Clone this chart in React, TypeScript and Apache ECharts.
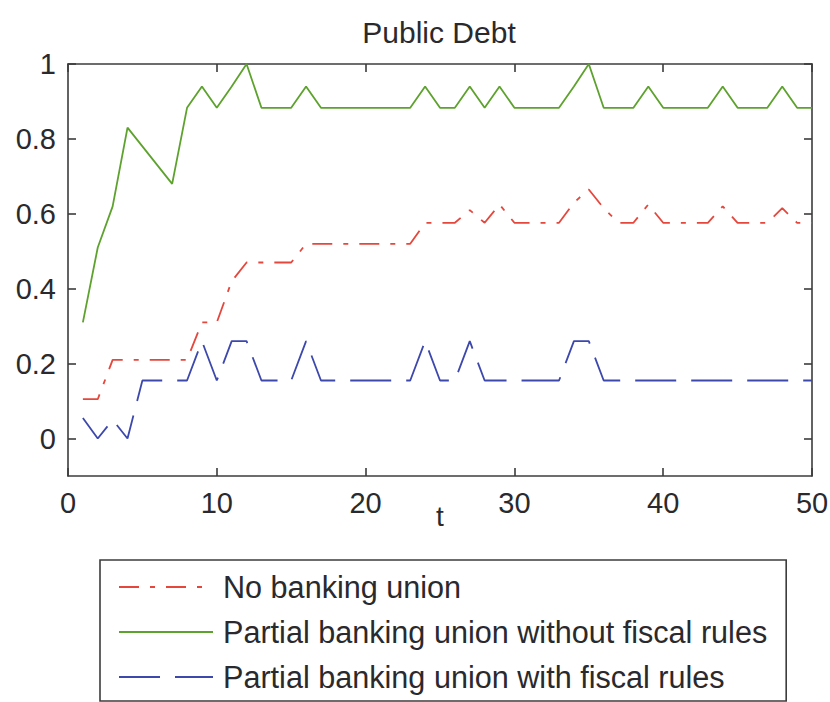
import React, { useEffect, useRef } from "react";
import * as echarts from "echarts";

const T = [1, 2, 3, 4, 5, 6, 7, 8, 9, 10, 11, 12, 13, 14, 15, 16, 17, 18, 19, 20, 21, 22, 23, 24, 25, 26, 27, 28, 29, 30, 31, 32, 33, 34, 35, 36, 37, 38, 39, 40, 41, 42, 43, 44, 45, 46, 47, 48, 49, 50];

const noBankingUnion = [
  0.105, 0.105, 0.21, 0.21, 0.21, 0.21, 0.21, 0.21, 0.31, 0.31,
  0.42, 0.47, 0.47, 0.47, 0.47, 0.52, 0.52, 0.52, 0.52, 0.52,
  0.52, 0.52, 0.52, 0.576, 0.576, 0.576, 0.61, 0.576, 0.625, 0.576,
  0.576, 0.576, 0.576, 0.63, 0.665, 0.615, 0.576, 0.576, 0.625, 0.576,
  0.576, 0.576, 0.576, 0.62, 0.576, 0.576, 0.576, 0.615, 0.576, 0.576,
];

const partialWithoutRules = [
  0.31, 0.51, 0.62, 0.83, 0.78, 0.73, 0.68, 0.883, 0.94, 0.883,
  0.94, 1.0, 0.883, 0.883, 0.883, 0.94, 0.883, 0.883, 0.883, 0.883,
  0.883, 0.883, 0.883, 0.94, 0.883, 0.883, 0.94, 0.883, 0.94, 0.883,
  0.883, 0.883, 0.883, 0.94, 1.0, 0.883, 0.883, 0.883, 0.94, 0.883,
  0.883, 0.883, 0.883, 0.94, 0.883, 0.883, 0.883, 0.94, 0.883, 0.883,
];

const partialWithRules = [
  0.055, 0.0, 0.05, 0.0, 0.155, 0.155, 0.155, 0.155, 0.26, 0.155,
  0.26, 0.26, 0.155, 0.155, 0.155, 0.26, 0.155, 0.155, 0.155, 0.155,
  0.155, 0.155, 0.155, 0.26, 0.155, 0.155, 0.26, 0.155, 0.155, 0.155,
  0.155, 0.155, 0.155, 0.26, 0.26, 0.155, 0.155, 0.155, 0.155, 0.155,
  0.155, 0.155, 0.155, 0.155, 0.155, 0.155, 0.155, 0.155, 0.155, 0.155,
];

const seriesNames = [
  "No banking union",
  "Partial banking union without fiscal rules",
  "Partial banking union with fiscal rules",
];

const yTicks = [0, 0.2, 0.4, 0.6, 0.8, 1];
const xTicksInterval = 10;

const FONT = "'Liberation Sans', Arial, sans-serif";
const AXIS_COLOR = "#3c3c3c";
const TEXT_COLOR = "#2a2a2e";

function pairs(values: number[]) {
  return T.map((t, i) => [t, values[i]]);
}

export default function App() {
  const ref = useRef<HTMLDivElement>(null);

  useEffect(() => {
    if (!ref.current) return;
    const chart = echarts.init(ref.current, null, { renderer: "svg" });

    const axisLine = { show: true, onZero: false, lineStyle: { color: AXIS_COLOR, width: 1.6 } };
    const axisTick = { show: true, inside: true, length: 8, lineStyle: { color: AXIS_COLOR, width: 1.6 } };

    chart.setOption({
      animation: false,
      backgroundColor: "#ffffff",
      title: {
        text: "Public Debt",
        left: 434,
        top: 12,
        textAlign: "center",
        textStyle: { fontFamily: FONT, fontSize: 30, fontWeight: "normal", color: TEXT_COLOR },
      },
      grid: { left: 68, right: 18, top: 64, bottom: 226, outerBoundsMode: "none" },
      xAxis: [
        {
          type: "value",
          min: 0,
          max: 50,
          interval: xTicksInterval,
          position: "bottom",
          name: "t",
          nameLocation: "middle",
          nameGap: 26,
          nameMoveOverlap: false,
          nameTextStyle: { fontFamily: FONT, fontSize: 28, color: TEXT_COLOR },
          axisLine,
          axisTick,
          splitLine: { show: false },
          axisLabel: { fontFamily: FONT, fontSize: 29, color: TEXT_COLOR, margin: 12 },
        },
        {
          type: "value",
          min: 0,
          max: 50,
          interval: xTicksInterval,
          position: "top",
          axisLine,
          axisTick,
          splitLine: { show: false },
          axisLabel: { show: false },
        },
      ],
      yAxis: [
        {
          type: "value",
          min: -0.1,
          max: 1,
          position: "left",
          axisLine,
          axisTick: { ...axisTick, customValues: yTicks },
          splitLine: { show: false },
          axisLabel: {
            customValues: yTicks,
            fontFamily: FONT,
            fontSize: 29,
            color: TEXT_COLOR,
            margin: 12,
            formatter: (v: number) => String(Math.round(v * 10) / 10),
          },
        },
        {
          type: "value",
          min: -0.1,
          max: 1,
          position: "right",
          axisLine,
          axisTick: { ...axisTick, customValues: yTicks },
          splitLine: { show: false },
          axisLabel: { show: false, customValues: yTicks },
        },
      ],
      legend: {
        orient: "vertical",
        left: 100,
        top: 560,
        itemWidth: 94,
        itemHeight: 16,
        itemGap: 9,
        padding: [9, 19, 6, 18],
        borderColor: AXIS_COLOR,
        borderWidth: 1.6,
        backgroundColor: "#ffffff",
        itemStyle: { opacity: 0 },
        textStyle: { fontFamily: FONT, fontSize: 30.6, color: TEXT_COLOR, lineHeight: 36, padding: [0, 0, 0, 5] },
        data: seriesNames,
      },
      series: [
        {
          name: seriesNames[0],
          type: "line",
          xAxisIndex: 0,
          yAxisIndex: 0,
          data: pairs(noBankingUnion),
          symbol: "none",
          lineStyle: { color: "#e5473d", width: 1.8, type: [20, 11, 5, 11] },
          itemStyle: { color: "#e5473d" },
        },
        {
          name: seriesNames[1],
          type: "line",
          xAxisIndex: 0,
          yAxisIndex: 0,
          data: pairs(partialWithoutRules),
          symbol: "none",
          lineStyle: { color: "#5ea22e", width: 1.8, type: "solid" },
          itemStyle: { color: "#5ea22e" },
        },
        {
          name: seriesNames[2],
          type: "line",
          xAxisIndex: 0,
          yAxisIndex: 0,
          data: pairs(partialWithRules),
          symbol: "none",
          lineStyle: { color: "#3d48ad", width: 1.8, type: [41, 15] },
          itemStyle: { color: "#3d48ad" },
        },
      ],
    });

    return () => chart.dispose();
  }, []);

  return (
    <div
      ref={ref}
      style={{ position: "absolute", left: 0, top: 0, width: 830, height: 702, background: "#fff" }}
    />
  );
}
